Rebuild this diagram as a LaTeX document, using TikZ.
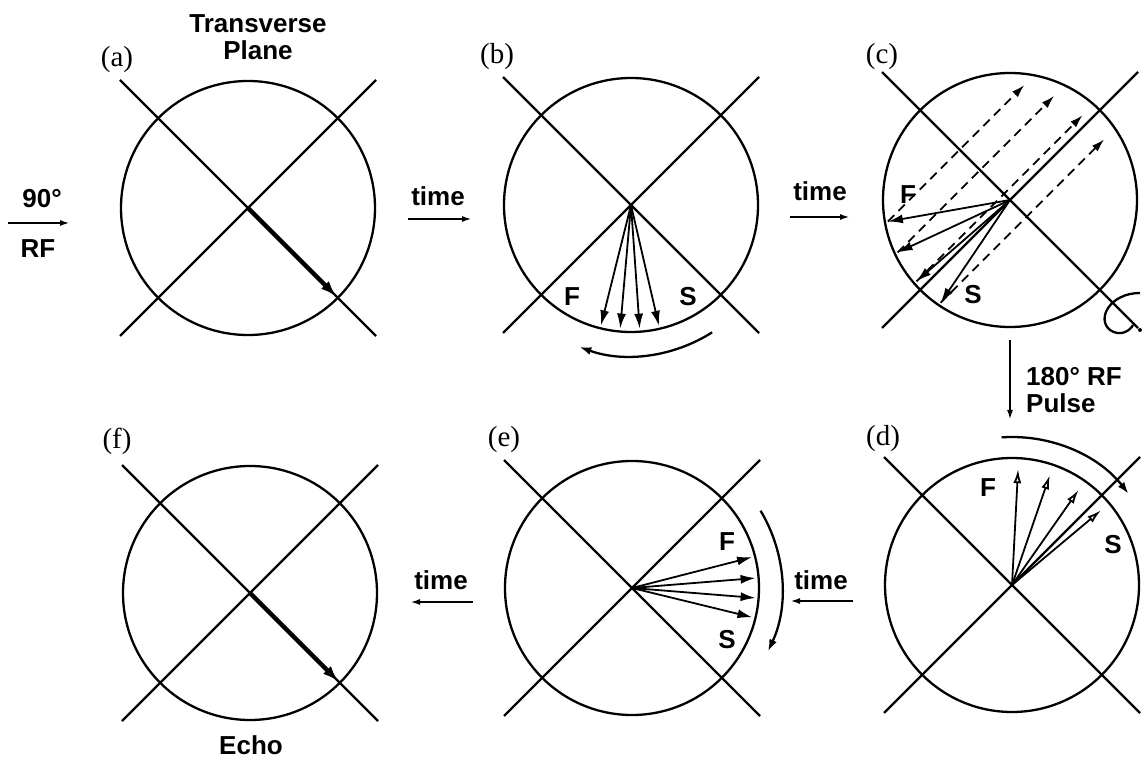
\documentclass[tikz,border=0pt]{standalone}
\usepackage{fontspec}
\setmainfont{Liberation Serif}
\setsansfont{Liberation Sans}
\usetikzlibrary{calc,arrows.meta}
\tikzset{
  ring/.style={draw=black,line width=2.3pt},
  cross/.style={draw=black,line width=2.3pt},
  vec/.style={draw=black,line width=1.8pt,-{Latex[length=15pt,width=9pt]}},
  hollowvec/.style={draw=black,line width=1.8pt,-{Latex[open,length=14pt,width=8pt]}},
  bigvec/.style={draw=black,line width=4.5pt,-{Latex[length=16pt,width=11pt]}},
  flipline/.style={draw=black,line width=1.8pt,dash pattern=on 9pt off 6pt,-{Latex[length=13pt,width=8pt]}},
  sweep/.style={draw=black,line width=2.3pt,-{Latex[length=12pt,width=8pt]}},
  timeline/.style={draw=black,line width=2.3pt,-{Latex[length=10pt,width=6pt]}},
  tag/.style={font=\fontsize{29}{31}\selectfont,inner sep=0pt},
  word/.style={font=\sffamily\bfseries\fontsize{26}{27}\selectfont,inner sep=0pt,align=center}
}
\begin{document}
\begin{tikzpicture}[x=1pt,y=1pt]
  \useasboundingbox (0,0) rectangle (1145,761);
  % six views of the transverse plane
  \foreach \n/\x/\y in {a/248/553,b/631/556,c/1010/561,f/250/168,e/632/173,d/1012/176}{
    \coordinate (p\n) at (\x,\y);
    \draw[ring] (p\n) circle[radius=127];
    \draw[cross] ($(p\n)+(-128,128)$) -- ($(p\n)+(128,-128)$);
    \draw[cross] ($(p\n)+(-128,-128)$) -- ($(p\n)+(128,128)$);
  }

  \node[tag] (taga) at (117,701) {(a)};
  \node[tag] (tagb) at (497,704) {(b)};
  \node[tag] (tagc) at (882,704) {(c)};
  \node[tag] (tagf) at (117,320) {(f)};
  \node[tag] (tage) at (504,321) {(e)};
  \node[tag] (tagd) at (883,322) {(d)};

  \node[word] (plane) at (258,724) {Transverse\\Plane};
  \node[word] (deg) at (42,562) {90°};
  \node[word] (rf) at (38,512) {RF};
  \coordinate (rfs) at (8,538);
  \coordinate (rfe) at (70,538);
  \draw[timeline] (rfs) -- (rfe);

  % (a) and (f)
  \coordinate (a1) at ($(pa)+(-45:125)$);
  \draw[bigvec] (pa) -- (a1);
  \coordinate (f1) at ($(pf)+(-45:125)$);
  \draw[bigvec] (pf) -- (f1);
  \node[word] (echo) at (251,16) {Echo};

  % (b)
  \node[word] (time1) at (438,565) {time};
  \coordinate (t1s) at (408,542);
  \coordinate (t1e) at (472,542);
  \draw[timeline] (t1s) -- (t1e);
  \foreach \t [count=\i] in {-104,-95,-86,-77}{
    \coordinate (b\i) at ($(pb)+(\t:124)$);
    \draw[vec] (pb) -- (b\i);
  }
  \node[word] (bF) at (572,464) {F};
  \node[word] (bS) at (688,464) {S};
  \coordinate (bsw) at ($(pb)+(-57.5:151)$);
  \draw[sweep] (bsw) arc[start angle=-57.5,end angle=-110,radius=151];

  % (c)
  \node[word] (time2) at (820,570) {time};
  \coordinate (t2s) at (790,544);
  \coordinate (t2e) at (850,544);
  \draw[timeline] (t2s) -- (t2e);
  \foreach \t [count=\i] in {190,205,221,236}{
    \coordinate (c\i) at ($(pc)+(\t:124)$);
    \coordinate (r\i) at ($(pc)+({270-\t}:124)$);
    \draw[vec] (pc) -- (c\i);
    \draw[flipline] (c\i) -- ($(c\i)!0.95!(r\i)$);
  }
  \node[word] (cF) at (908,566) {F};
  \node[word] (cS) at (973,466) {S};
  \draw[ring] (1140,468) .. controls (1110,468) and (1096,442) .. (1110,431)
    .. controls (1120,424) and (1130,430) .. (1133,436);
  \fill (1140,431) circle[radius=2];

  % (d)
  \coordinate (pl1) at (1010,421);
  \coordinate (pl2) at (1010,341);
  \draw[timeline] (pl1) -- (pl2);
  \node[word,align=left,anchor=west] (pulse) at (1026,371) {180° RF\\Pulse};
  \foreach \t [count=\i] in {87,71,55,40}{
    \coordinate (d\i) at ($(pd)+(\t:116)$);
    \draw[hollowvec] (pd) -- (d\i);
  }
  \node[word] (dF) at (988,273) {F};
  \node[word] (dS) at (1113,216) {S};
  \coordinate (dsw) at ($(pd)+(94:148)$);
  \draw[sweep] (dsw) arc[start angle=94,end angle=38,radius=148];

  % (e)
  \node[word] (time3) at (821,181) {time};
  \coordinate (t3s) at (853,160);
  \coordinate (t3e) at (790,160);
  \draw[timeline] (t3s) -- (t3e);
  \foreach \t [count=\i] in {14.4,4.6,-4.6,-13.7}{
    \coordinate (e\i) at ($(pe)+(\t:124)$);
    \draw[vec] (pe) -- (e\i);
  }
  \node[word] (eF) at (727,219) {F};
  \node[word] (eS) at (727,121) {S};
  \coordinate (esw) at ($(pe)+(31:150)$);
  \draw[sweep] (esw) arc[start angle=31,end angle=-25,radius=150];

  % (f)
  \node[word] (time4) at (441,181) {time};
  \coordinate (t4s) at (473,159);
  \coordinate (t4e) at (410,159);
  \draw[timeline] (t4s) -- (t4e);
\end{tikzpicture}
\end{document}
